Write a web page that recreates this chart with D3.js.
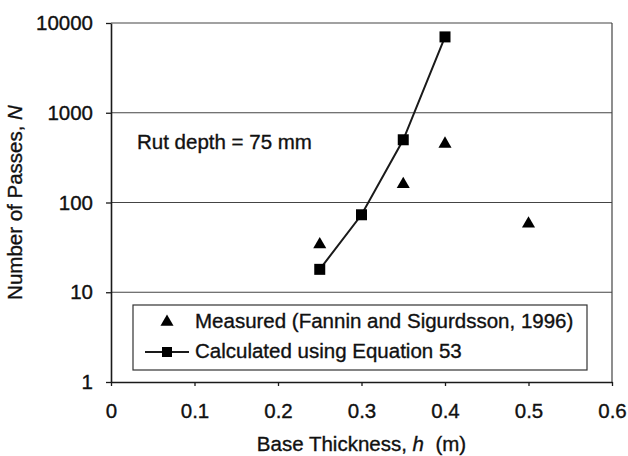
<!DOCTYPE html>
<html>
<head>
<meta charset="utf-8">
<script src="https://cdn.jsdelivr.net/npm/d3@7"></script>
<style>
  html, body { margin: 0; padding: 0; background: #fff; }
  svg text { font-family: "Liberation Sans", Arial, sans-serif; fill: #111; stroke: #111; stroke-width: 0.35px; }
</style>
</head>
<body>
<svg id="chart" width="628" height="456"></svg>
<script>
// Base thickness (m) and number of passes N for 75 mm rut depth
const measuredThickness = [0.25, 0.35, 0.4, 0.5];
const measuredPasses = [34, 160, 450, 58];
const calculatedThickness = [0.25, 0.3, 0.35, 0.4];
const calculatedPasses = [18, 73, 500, 7000];
const xTicks = [0, 0.1, 0.2, 0.3, 0.4, 0.5, 0.6];
const yTicks = [1, 10, 100, 1000, 10000];
const legendLabels = ["Measured (Fannin and Sigurdsson, 1996)", "Calculated using Equation 53"];

const svg = d3.select("#chart");
const plotL = 111, plotR = 612, plotT = 23, plotB = 382;
const ink = "#1a1a1a";
const fs = 20.5;

const x = d3.scaleLinear().domain([0, 0.6]).range([plotL, plotR]);
const y = d3.scaleLog().domain([1, 10000]).range([plotB, plotT]);

// Horizontal grid lines
svg.append("g").selectAll("line")
  .data(yTicks.slice(1))
  .join("line")
  .attr("x1", plotL).attr("x2", plotR)
  .attr("y1", d => y(d)).attr("y2", d => y(d))
  .attr("stroke", "#444").attr("stroke-width", 1.2);

// Right border
svg.append("line")
  .attr("x1", plotR).attr("x2", plotR).attr("y1", plotT).attr("y2", plotB)
  .attr("stroke", "#444").attr("stroke-width", 1.2);

// Axes
const xAxis = svg.append("g")
  .attr("transform", `translate(0,${plotB})`)
  .call(d3.axisBottom(x).tickValues(xTicks).tickSize(4).tickSizeOuter(0)
    .tickFormat(d => d === 0 ? "0" : d3.format(".1f")(d)));
const yAxis = svg.append("g")
  .attr("transform", `translate(${plotL},0)`)
  .call(d3.axisLeft(y).tickValues(yTicks).tickSize(5).tickSizeOuter(0).tickPadding(13)
    .tickFormat(d3.format("d")));

[xAxis, yAxis].forEach(g => {
  g.select(".domain").attr("stroke", ink).attr("stroke-width", 1.6);
  g.selectAll(".tick line").attr("stroke", ink).attr("stroke-width", 1.3);
  g.selectAll(".tick text").attr("font-size", fs).attr("fill", "#111")
    .style("font-family", '"Liberation Sans", Arial, sans-serif');
});
xAxis.selectAll(".tick text").attr("dy", null).attr("y", 36);

// Axis titles
const xTitle = svg.append("text")
  .attr("x", (plotL + plotR) / 2).attr("y", 451)
  .attr("text-anchor", "middle").attr("font-size", fs)
  .attr("xml:space", "preserve");
xTitle.append("tspan").text("Base Thickness, ");
xTitle.append("tspan").attr("font-style", "italic").text("h");
xTitle.append("tspan").text("  (m)");

const yTitle = svg.append("text")
  .attr("transform", `translate(22,${(plotT + plotB) / 2}) rotate(-90)`)
  .attr("text-anchor", "middle").attr("font-size", fs);
yTitle.append("tspan").text("Number of Passes, ");
yTitle.append("tspan").attr("font-style", "italic").text("N");

// Annotation
svg.append("text")
  .attr("x", 137).attr("y", 149)
  .attr("font-size", fs)
  .text("Rut depth = 75 mm");

// Calculated line with square markers
const calc = calculatedThickness.map((t, i) => ({ t, n: calculatedPasses[i] }));
svg.append("path")
  .datum(calc)
  .attr("fill", "none").attr("stroke", ink).attr("stroke-width", 2)
  .attr("d", d3.line().x(d => x(d.t)).y(d => y(d.n)));

const squareSym = d3.symbol().type(d3.symbolSquare).size(121);
const triSym = d3.symbol().type(d3.symbolTriangle).size(74);

svg.append("g").selectAll("path")
  .data(calc)
  .join("path")
  .attr("transform", d => `translate(${x(d.t)},${y(d.n)})`)
  .attr("d", squareSym)
  .attr("fill", "#000");

// Measured triangles
const meas = measuredThickness.map((t, i) => ({ t, n: measuredPasses[i] }));
svg.append("g").selectAll("path")
  .data(meas)
  .join("path")
  .attr("transform", d => `translate(${x(d.t)},${y(d.n)})`)
  .attr("d", triSym)
  .attr("fill", "#000");

// Legend
const legend = svg.append("g");
legend.append("rect")
  .attr("x", 133).attr("y", 305).attr("width", 454).attr("height", 65)
  .attr("fill", "#fff").attr("stroke", "#333").attr("stroke-width", 1.2);
legend.append("path")
  .attr("transform", "translate(167,322)")
  .attr("d", triSym).attr("fill", "#000");
legend.append("line")
  .attr("x1", 145).attr("x2", 189).attr("y1", 352).attr("y2", 352)
  .attr("stroke", ink).attr("stroke-width", 2);
legend.append("path")
  .attr("transform", "translate(167,352)")
  .attr("d", d3.symbol().type(d3.symbolSquare).size(100)).attr("fill", "#000");
legend.selectAll("text.lbl")
  .data(legendLabels)
  .join("text")
  .attr("class", "lbl")
  .attr("x", 195)
  .attr("y", (d, i) => 328 + i * 30)
  .attr("font-size", fs)
  .text(d => d);
</script>
</body>
</html>
